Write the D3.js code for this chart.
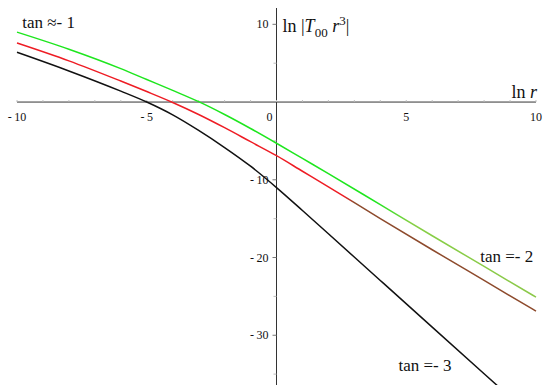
<!DOCTYPE html>
<html>
<head>
<meta charset="utf-8">
<script src="https://cdn.jsdelivr.net/npm/d3@7"></script>
<style>
  body { margin: 0; background: #fff; }
  text { font-family: "Liberation Serif", "Times New Roman", serif; fill: #111; }
</style>
</head>
<body>
<script>

// data (x = ln r, y = ln|T00 r^3|)
const xs = [-10, -8, -6, -5, -4, -3, -2, -1, 0, 1, 2, 4, 6, 8, 10];
const greenVals = [9.0, 6.8, 4.3, 2.9, 1.5, 0.05, -1.6, -3.4, -5.3, -7.25, -9.2, -13.2, -17.2, -21.15, -25.1];
const redVals = [7.6, 5.3, 2.7, 1.35, -0.05, -1.6, -3.3, -5.1, -6.9, -8.9, -10.9, -15.0, -19.0, -22.95, -26.9];
const blackVals = [6.4, 4.0, 1.4, 0, -1.65, -3.65, -5.85, -8.25, -11.0, -13.95, -16.95, -22.95, -28.95, -34.95, -40.95];

const xTicks = [-10, -5, 0, 5, 10];
const yTicks = [10, -10, -20, -30];
const xMinor = d3.range(-10, 10.1, 1);
const yMinor = [5, -5, -15, -25, -35];

const labels = [
  {text: "tan \u2248- 1", x: -9.8, y: 9.5},
  {text: "tan =- 2", x: 7.85, y: -20.6},
  {text: "tan =- 3", x: 4.7, y: -34.6}
];

const w = 550;
const h = 385;

const xScale = d3.scaleLinear()
    .domain([-10, 10])
    .range([17, 536]);

const yScale = d3.scaleLinear()
    .domain([-36.4, 12.1])
    .range([385, 8]);

const svg = d3.select("body")
  .append("svg")
    .attr("width", w)
    .attr("height", h);

// colour drift along the lines (as in the reference)
const defs = svg.append("defs");
function grad(id, stops) {
  const g = defs.append("linearGradient")
      .attr("id", id)
      .attr("gradientUnits", "userSpaceOnUse")
      .attr("x1", xScale(-10)).attr("x2", xScale(10))
      .attr("y1", 0).attr("y2", 0);
  stops.forEach(s => g.append("stop")
      .attr("offset", (xScale(s[0]) - xScale(-10)) / (xScale(10) - xScale(-10)))
      .attr("stop-color", s[1]));
}
grad("gGreen", [[-10, "#1ee61e"], [3.8, "#1ee61e"], [5.2, "#86cf45"], [10, "#8cc84a"]]);
grad("gRed", [[-10, "#ee1c24"], [2.6, "#ee1c24"], [3.0, "#8d4a2c"], [10, "#8d4a2c"]]);

// axes
const axisColor = "#333";

svg.append("line")
    .attr("x1", xScale(-10)).attr("x2", xScale(10))
    .attr("y1", yScale(0)).attr("y2", yScale(0))
    .attr("stroke", axisColor).attr("stroke-width", 1);

svg.append("line")
    .attr("x1", xScale(0)).attr("x2", xScale(0))
    .attr("y1", yScale(12.1)).attr("y2", yScale(-36.4))
    .attr("stroke", axisColor).attr("stroke-width", 1);

svg.selectAll(".xminor")
  .data(xMinor)
  .enter().append("line")
    .attr("x1", d => xScale(d)).attr("x2", d => xScale(d))
    .attr("y1", yScale(0) - 2).attr("y2", yScale(0))
    .attr("stroke", "#bbb");

svg.selectAll(".yminor")
  .data(yMinor)
  .enter().append("line")
    .attr("x1", xScale(0) - 3).attr("x2", xScale(0))
    .attr("y1", d => yScale(d)).attr("y2", d => yScale(d))
    .attr("stroke", "#bbb");

svg.selectAll(".ymajor")
  .data(yTicks)
  .enter().append("line")
    .attr("x1", xScale(0) - 4).attr("x2", xScale(0))
    .attr("y1", d => yScale(d)).attr("y2", d => yScale(d))
    .attr("stroke", "#777");

const fmt = d => d < 0 ? "-\u2009" + (-d) : String(d);

svg.selectAll(".xlab")
  .data(xTicks)
  .enter().append("text")
    .attr("x", d => d === 0 ? xScale(0) - 7 : xScale(d))
    .attr("y", yScale(0) + 19)
    .attr("text-anchor", "middle")
    .attr("font-size", 12)
    .text(fmt);

svg.selectAll(".ylab")
  .data(yTicks)
  .enter().append("text")
    .attr("x", xScale(0) - 8)
    .attr("y", d => yScale(d) + 4)
    .attr("text-anchor", "end")
    .attr("font-size", 12)
    .text(fmt);

// curves
const line = d3.line()
    .x(d => xScale(d[0]))
    .y(d => yScale(d[1]))
    .curve(d3.curveMonotoneX);

const series = [
  {vals: blackVals, color: "#111"},
  {vals: redVals, color: "url(#gRed)"},
  {vals: greenVals, color: "url(#gGreen)"}
];

svg.append("g")
  .selectAll("path")
  .data(series)
  .enter().append("path")
    .attr("d", s => line(xs.map((x, i) => [x, s.vals[i]])))
    .attr("fill", "none")
    .attr("stroke", s => s.color)
    .attr("stroke-width", 1.5);

// axis titles
const yt = svg.append("text")
    .attr("x", xScale(0) + 6)
    .attr("y", 32)
    .attr("font-size", 18);
yt.append("tspan").text("ln |");
yt.append("tspan").attr("font-style", "italic").text("T");
yt.append("tspan").attr("font-size", 13).attr("dy", 5).text("00");
yt.append("tspan").attr("dy", -5).text(" ");
yt.append("tspan").attr("font-style", "italic").text("r");
yt.append("tspan").attr("font-size", 13).attr("dy", -7).text("3");
yt.append("tspan").attr("dy", 7).text("|");

const xt = svg.append("text")
    .attr("x", 537)
    .attr("y", yScale(0) - 4)
    .attr("text-anchor", "end")
    .attr("font-size", 18);
xt.append("tspan").text("ln ");
xt.append("tspan").attr("font-style", "italic").text("r");

// curve labels
svg.selectAll(".clab")
  .data(labels)
  .enter().append("text")
    .attr("x", d => xScale(d.x))
    .attr("y", d => yScale(d.y))
    .attr("font-size", 17)
    .text(d => d.text);

</script>
</body>
</html>
